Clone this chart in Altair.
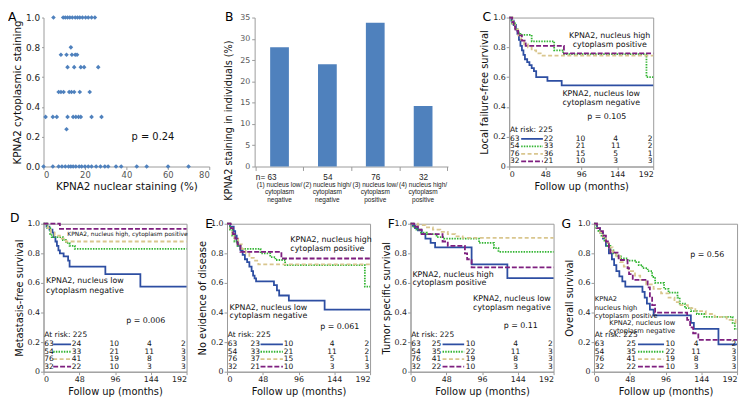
import altair as alt
import pandas as pd

FONT = "DejaVu Sans"
FONT_B = "Liberation Sans"
GROUPS = ["g1", "g2", "g3", "g4"]
COLORS = ["#2D4EA2", "#33B533", "#D9C68E", "#7E1F7F"]
DASHES = [[1, 0], [1.5, 1.2], [4, 2.5], [5, 2]]
AXIS_GREY = "#9a9a9a"

# ---------------- Panel A data (nuclear %, cytoplasmic score) ----------------
A_LEVELS = [1.0, 0.8, 0.75, 0.667, 0.5, 0.333, 0.25, 0.0]
A_NUC_100 = [4.8, 9.5, 10.5, 11.6, 12.7, 13.9, 15.3, 16.4, 17.5, 18.8, 20.3, 21.6, 23.2, 24.8]
A_NUC_080 = [13.2]
A_NUC_075 = [8.4, 11.1, 13.7, 15.3, 16.2]
A_NUC_067 = [11.6, 14.8, 18.0, 19.6, 26.4]
A_NUC_050 = [7.3, 8.4, 9.7, 12.4, 13.5, 14.8, 17.5, 22.3]
A_NUC_033 = [1.0, 4.5, 6.4, 11.6, 14.3, 15.6, 16.9, 18.0, 23.2, 28.0]
A_NUC_025 = [11.1]
A_NUC_000 = [0, 4.5, 7.3, 8.9, 10.5, 12.1, 13.2, 14.3, 15.6, 17.2, 18.4, 20.0, 21.6,
             23.2, 25.4, 27.5, 29.6, 31.2, 35.0, 37.5, 45.0, 49.8, 60.1, 70.0]

# ---------------- Panel B data ----------------
B_CATS = ["c1", "c2", "c3", "c4"]
B_N = [63, 54, 76, 32]
B_PCT = [28.0, 24.0, 33.8, 14.2]
B_LABELS = [["(1) nucleus low/", "cytoplasm", "negative"],
            ["(2) nucleus high/", "cytoplasm", "negative"],
            ["(3) nucleus low/", "cytoplasm", "positive"],
            ["(4) nucleus high/", "cytoplasm", "positive"]]

# ---------------- Kaplan-Meier curves (time in months, survival) ----------------
C_T1 = [0, 3, 6, 9, 11, 13, 15, 17, 19, 21, 24, 27, 30, 33, 36, 51, 70, 192]
C_S1 = [1.0, 0.98, 0.95, 0.92, 0.89, 0.85, 0.81, 0.78, 0.75, 0.72, 0.70, 0.68, 0.66, 0.64, 0.60, 0.575, 0.545, 0.545]
C_T2 = [0, 4, 8, 12, 15, 30, 60, 72, 183, 192]
C_S2 = [1.0, 0.96, 0.92, 0.9, 0.883, 0.84, 0.78, 0.755, 0.6, 0.6]
C_T3 = [0, 5, 8, 12, 16, 20, 25, 30, 36, 42, 192]
C_S3 = [1.0, 0.96, 0.92, 0.88, 0.85, 0.82, 0.8, 0.78, 0.76, 0.745, 0.745]
C_T4 = [0, 4, 6, 8, 12, 17, 22, 73, 192]
C_S4 = [1.0, 0.97, 0.94, 0.91, 0.88, 0.845, 0.81, 0.76, 0.76]

D_T1 = [0, 4, 8, 12, 14, 16, 18, 20, 22, 27, 33, 35, 83, 130, 192]
D_S1 = [1.0, 0.98, 0.96, 0.94, 0.91, 0.88, 0.85, 0.82, 0.8, 0.78, 0.75, 0.71, 0.66, 0.575, 0.575]
D_T2 = [0, 5, 9, 11, 26, 30, 35, 42, 192]
D_S2 = [1.0, 0.97, 0.93, 0.91, 0.89, 0.87, 0.85, 0.83, 0.83]
D_T3 = [0, 6, 10, 15, 22, 30, 192]
D_S3 = [1.0, 0.97, 0.94, 0.92, 0.9, 0.88, 0.88]
D_T4 = [0, 22, 192]
D_S4 = [1.0, 0.965, 0.965]

E_T1 = [0, 4, 9, 11, 13, 15, 18, 21, 24, 27, 30, 33, 35, 37, 39, 63, 67, 70, 83, 131, 192]
E_S1 = [1.0, 0.98, 0.95, 0.92, 0.88, 0.85, 0.82, 0.79, 0.76, 0.74, 0.71, 0.68, 0.65, 0.63, 0.61, 0.585, 0.55, 0.515, 0.48, 0.42, 0.42]
E_T2 = [0, 4, 7, 10, 14, 18, 45, 58, 65, 78, 185, 192]
E_S2 = [1.0, 0.96, 0.92, 0.88, 0.85, 0.83, 0.8, 0.775, 0.755, 0.72, 0.575, 0.575]
E_T3 = [0, 4, 7, 10, 15, 20, 25, 30, 36, 42, 192]
E_S3 = [1.0, 0.97, 0.93, 0.9, 0.86, 0.83, 0.8, 0.77, 0.75, 0.725, 0.725]
E_T4 = [0, 5, 8, 11, 14, 18, 73, 192]
E_S4 = [1.0, 0.97, 0.93, 0.9, 0.86, 0.81, 0.765, 0.765]

F_T1 = [0, 3, 6, 10, 15, 20, 27, 33, 82, 130, 192]
F_S1 = [1.0, 0.985, 0.97, 0.955, 0.93, 0.9, 0.87, 0.84, 0.725, 0.633, 0.633]
F_T2 = [0, 4, 8, 14, 22, 35, 45, 92, 112, 118, 192]
F_S2 = [1.0, 0.98, 0.96, 0.94, 0.93, 0.91, 0.9, 0.87, 0.835, 0.81, 0.81]
F_T3 = [0, 10, 20, 30, 40, 50, 60, 70, 192]
F_S3 = [1.0, 0.99, 0.975, 0.96, 0.945, 0.93, 0.915, 0.905, 0.905]
F_T4 = [0, 5, 10, 15, 43, 50, 73, 76, 82, 192]
F_S4 = [1.0, 0.98, 0.96, 0.93, 0.88, 0.85, 0.8, 0.76, 0.705, 0.705]

G_T1 = [0, 4, 8, 12, 16, 20, 24, 27, 30, 34, 38, 42, 65, 68, 71, 75, 80, 130, 134, 167, 192]
G_S1 = [1.0, 0.97, 0.94, 0.9, 0.85, 0.8, 0.76, 0.72, 0.68, 0.645, 0.61, 0.575, 0.54, 0.5, 0.46, 0.42, 0.38, 0.33, 0.29, 0.185, 0.185]
G_T2 = [0, 3, 6, 10, 14, 18, 22, 26, 30, 36, 45, 55, 60, 65, 72, 78, 82, 94, 100, 112, 115, 122, 130, 138, 148, 186, 189, 192]
G_S2 = [1.0, 0.97, 0.95, 0.92, 0.88, 0.85, 0.82, 0.8, 0.78, 0.765, 0.75, 0.74, 0.72, 0.7, 0.68, 0.64, 0.6, 0.56, 0.535, 0.5, 0.46, 0.43, 0.41, 0.39, 0.37, 0.33, 0.29, 0.29]
G_T3 = [0, 4, 8, 12, 16, 20, 25, 30, 35, 40, 46, 55, 62, 70, 80, 90, 100, 108, 116, 126, 136, 150, 162, 178, 190, 192]
G_S3 = [1.0, 0.97, 0.94, 0.9, 0.87, 0.84, 0.81, 0.78, 0.74, 0.71, 0.68, 0.65, 0.62, 0.59, 0.56, 0.53, 0.5, 0.47, 0.45, 0.43, 0.41, 0.39, 0.37, 0.35, 0.32, 0.32]
G_T4 = [0, 4, 8, 12, 16, 20, 22, 33, 45, 47, 52, 72, 75, 78, 82, 125, 129, 133, 140, 192]
G_S4 = [1.0, 0.97, 0.95, 0.92, 0.88, 0.84, 0.805, 0.755, 0.7, 0.66, 0.62, 0.57, 0.51, 0.45, 0.4, 0.35, 0.3, 0.26, 0.215, 0.215]

# ---------------- Numbers at risk ----------------
RISK_LABELS = [63, 54, 76, 32]
C_RISK = [[22, 33, 36, 21], [10, 21, 15, 10], [4, 11, 5, 3], [2, 2, 1, 3]]
D_RISK = [[24, 33, 41, 22], [10, 21, 19, 10], [4, 11, 8, 3], [2, 3, 3, 3]]
E_RISK = [[23, 33, 37, 21], [10, 21, 15, 10], [4, 11, 5, 3], [2, 2, 1, 3]]
F_RISK = [[25, 35, 41, 22], [10, 22, 19, 10], [4, 11, 8, 3], [2, 3, 3, 3]]
G_RISK = [[25, 35, 41, 22], [10, 22, 19, 10], [4, 11, 8, 3], [2, 3, 3, 3]]
RISK_Y = [0.185, 0.135, 0.085, 0.035]
RISK_HEAD_Y = 0.245
RISK_FS = 7.6


def letter_title(letter, dx, offset):
    return alt.TitleParams(text=letter, anchor="start", frame="group", dx=dx,
                           offset=offset, fontSize=12.5, fontWeight="normal", font=FONT)


def base_x():
    return alt.X("t:Q", scale=alt.Scale(domain=[0, 192], nice=False, zero=False),
                 axis=alt.Axis(values=[0, 48, 96, 144, 192], title="Follow up (months)",
                               titleFontSize=10, labelFontSize=8, tickSize=3,
                               labelPadding=1, titlePadding=3))


def base_y(title):
    return alt.Y("s:Q", scale=alt.Scale(domain=[0, 1], nice=False),
                 axis=alt.Axis(values=[0, 0.2, 0.4, 0.6, 0.8, 1.0],
                               labelExpr="datum.value == 0 ? '0' : format(datum.value, '.1f')",
                               title=title, titleFontSize=10, labelFontSize=8, tickSize=3,
                               labelPadding=1, titlePadding=3))


def km_panel(letter, ldx, loff, ytitle, curves, risk, cols, seg, annots, width, height):
    xs = base_x()
    ys = base_y(ytitle)
    col = alt.Color("g:N", scale=alt.Scale(domain=GROUPS, range=COLORS), legend=None)
    dash = alt.StrokeDash("g:N", scale=alt.Scale(domain=GROUPS, range=DASHES), legend=None)
    rows = []
    for g, (ts, ss) in zip(GROUPS, curves):
        for t, s in zip(ts, ss):
            rows.append({"g": g, "t": t, "s": s})
    lines = alt.Chart(pd.DataFrame(rows)).mark_line(
        interpolate="step-after", strokeWidth=1.8).encode(x=xs, y=ys, color=col, strokeDash=dash)

    segdf = pd.DataFrame({"g": GROUPS, "t": [seg[0]] * 4, "t2": [seg[1]] * 4, "s": RISK_Y})
    segs = alt.Chart(segdf).mark_rule(strokeWidth=1.8).encode(
        x=xs, x2="t2:Q", y=ys, color=col, strokeDash=dash)

    items = [(1, RISK_HEAD_Y, "At risk: 225", "left", RISK_FS)]
    for lab, y in zip(RISK_LABELS, RISK_Y):
        items.append((1, y, str(lab), "left", RISK_FS))
    for (cx, al), vals in zip(cols, risk):
        for v, y in zip(vals, RISK_Y):
            items.append((cx, y, str(v), al, RISK_FS))
    items += annots
    layers = [lines, segs]
    keys = sorted(set((it[3], it[4]) for it in items))
    for al, sz in keys:
        sub = [it for it in items if it[3] == al and it[4] == sz]
        df = pd.DataFrame({"t": [i[0] for i in sub], "s": [i[1] for i in sub],
                           "label": [i[2] for i in sub]})
        layers.append(alt.Chart(df).mark_text(align=al, baseline="middle", fontSize=sz,
                                              font=FONT, color="#111").encode(
            x=xs, y=ys, text="label:N"))
    return alt.layer(*layers).properties(
        width=width, height=height,
        view=alt.ViewBackground(stroke=AXIS_GREY, strokeWidth=1),
        title=letter_title(letter, ldx, loff))


# ---------------- Panel A ----------------
a_nuc, a_cyt = [], []
for lvl, vals in zip(A_LEVELS, [A_NUC_100, A_NUC_080, A_NUC_075, A_NUC_067, A_NUC_050,
                                A_NUC_033, A_NUC_025, A_NUC_000]):
    a_nuc += vals
    a_cyt += [lvl] * len(vals)
dfa = pd.DataFrame({"nuc": a_nuc, "cyt": a_cyt})
ax = alt.X("nuc:Q", scale=alt.Scale(domain=[0, 80], nice=False),
           axis=alt.Axis(values=[0, 20, 40, 60, 80], title="KPNA2 nuclear staining (%)",
                         titleFontSize=10.5, labelFontSize=8.5, labelColor="#555",
                         tickSize=3, labelPadding=1, titlePadding=3))
ay = alt.Y("cyt:Q", scale=alt.Scale(domain=[0, 1], nice=False),
           axis=alt.Axis(values=[0, 0.2, 0.4, 0.6, 0.8, 1.0], format=".1f",
                         title="KPNA2 cytoplasmic staining", titleFontSize=10.5,
                         labelFontSize=9, tickSize=2, labelPadding=2, titlePadding=3))
pts = alt.Chart(dfa).mark_point(shape="diamond", filled=True, size=22, opacity=1,
                                color="#4F81BD").encode(x=ax, y=ay)
ptxt = alt.Chart(pd.DataFrame({"nuc": [42.5], "cyt": [0.2], "label": ["p = 0.24"]})).mark_text(
    align="left", baseline="middle", fontSize=10, font=FONT, color="#111").encode(
    x=ax, y=ay, text="label:N")
panelA = alt.layer(pts, ptxt).properties(width=168, height=151,
                                         title=letter_title("A", -36, -10))

# ---------------- Panel B ----------------
dfb = pd.DataFrame({"cat": B_CATS, "pct": B_PCT})
n_expr = " : ".join(f"datum.value == '{c}' ? '{('n= ' if i == 0 else '') + str(n)}'"
                    for i, (c, n) in enumerate(zip(B_CATS, B_N))) + " : ''"
lab_expr = " : ".join(
    f"datum.value == '{c}' ? [" + ", ".join(f"'{s}'" for s in lab) + "]"
    for c, lab in zip(B_CATS, B_LABELS)) + " : ''"
bscale = alt.Scale(domain=B_CATS, paddingInner=0, paddingOuter=0.02)
bx1 = alt.X("cat:N", scale=bscale, sort=None,
            axis=alt.Axis(title=None, orient="bottom", labelExpr=n_expr, labelAngle=0,
                          tickBand="extent", tickSize=4, labelFontSize=8.3, labelPadding=2,
                          labelFont=FONT_B, labelOverlap=False, labelColor="#222",
                          labelOffset={"condition": {"test": "datum.value == 'c1'", "value": -14},
                                       "value": 0}))
bx2 = alt.X("cat:N", scale=bscale, sort=None,
            axis=alt.Axis(title=None, orient="bottom", offset=15, domain=False, ticks=False,
                          labelExpr=lab_expr, labelAngle=0, labelFontSize=6.6,
                          labelFont=FONT_B, labelLineHeight=7.7, labelPadding=0,
                          labelOverlap=False, labelBaseline="top", labelColor="#222"))
by = alt.Y("pct:Q", scale=alt.Scale(domain=[0, 35], nice=False),
           axis=alt.Axis(values=[0, 5, 10, 15, 20, 25, 30, 35],
                         title="KPNA2 staining in individuals (%)", titleY=104,
                         titleFontSize=9.8, labelFontSize=8, labelColor="#555", tickSize=3,
                         labelPadding=2, titlePadding=6))
bars = alt.Chart(dfb).mark_bar(size=19, color="#4F81BD").encode(x=bx1, y=by)
bars2 = alt.Chart(dfb).mark_bar(size=19, opacity=0).encode(x=bx2, y=by)
panelB = alt.layer(bars, bars2).resolve_axis(x="independent").properties(
    width=196, height=151, title=letter_title("B", -30, -10))

# ---------------- KM panels ----------------
panelC = km_panel(
    "C", -27, -10, "Local failure-free survival",
    [(C_T1, C_S1), (C_T2, C_S2), (C_T3, C_S3), (C_T4, C_S4)], C_RISK,
    [(46, "left"), (95, "center"), (142, "center"), (191, "right")], (16, 45),
    [(134, 0.876, "KPNA2, nucleus high", "center", 8),
     (134, 0.817, "cytoplasm positive", "center", 8),
     (71, 0.486, "KPNA2, nucleus low", "left", 8),
     (71, 0.424, "cytoplasm negative", "left", 8),
     (104, 0.331, "p = 0.105", "left", 8)],
    146, 151)

panelD = km_panel(
    "D", -34, -5, "Metastasis-free survival",
    [(D_T1, D_S1), (D_T2, D_S2), (D_T3, D_S3), (D_T4, D_S4)], D_RISK,
    [(38, "left"), (95, "center"), (142, "center"), (191, "right")], (13, 37),
    [(32, 0.933, "KPNA2, nucleus high, cytoplasm positive", "left", 6),
     (3.5, 0.611, "KPNA2, nucleus low", "left", 8),
     (3.5, 0.544, "cytoplasm negative", "left", 8),
     (111, 0.344, "p = 0.006", "left", 8)],
    145, 150)

panelE = km_panel(
    "E", -22, -11, "No evidence of disease",
    [(E_T1, E_S1), (E_T2, E_S2), (E_T3, E_S3), (E_T4, E_S4)], E_RISK,
    [(38, "center"), (76, "left"), (141, "center"), (191, "right")], (45, 75),
    [(85, 0.89, "KPNA2, nucleus high", "left", 8),
     (85, 0.827, "cytoplasm positive", "left", 8),
     (3.5, 0.433, "KPNA2, nucleus low", "left", 8),
     (3.5, 0.373, "cytoplasm negative", "left", 8),
     (125, 0.3, "p = 0.061", "left", 8)],
    145, 150)

panelF = km_panel(
    "F", -23, -11, "Tumor specific survival",
    [(F_T1, F_S1), (F_T2, F_S2), (F_T3, F_S3), (F_T4, F_S4)], F_RISK,
    [(35, "center"), (74, "left"), (141, "center"), (191, "right")], (43, 72),
    [(2.5, 0.656, "KPNA2, nucleus high", "left", 8),
     (2.5, 0.6, "cytoplasm positive", "left", 8),
     (84, 0.493, "KPNA2, nucleus low", "left", 8),
     (84, 0.433, "cytoplasm negative", "left", 8),
     (125, 0.307, "p = 0.11", "left", 8)],
    145, 150)

panelG = km_panel(
    "G", -33, -11, "Overall survival",
    [(G_T1, G_S1), (G_T2, G_S2), (G_T3, G_S3), (G_T4, G_S4)], G_RISK,
    [(50, "center"), (96, "left"), (137, "center"), (191, "right")], (59, 94),
    [(129, 0.789, "p = 0.56", "left", 8),
     (1, 0.489, "KPNA2", "left", 6.8),
     (1, 0.433, "nucleus high", "left", 6.8),
     (1, 0.378, "cytoplasm positive", "left", 6.8),
     (109, 0.326, "KPNA2, nucleus low", "right", 6.8),
     (109, 0.274, "cytoplasm negative", "right", 6.8)],
    145, 150)


def spacer(w, h):
    return alt.Chart(pd.DataFrame({"v": [0]})).mark_point(size=1, opacity=0).encode(
        x=alt.value(w / 2), y=alt.value(h / 2)).properties(width=w, height=h)


top = alt.hconcat(panelA, spacer(46, 151), panelB, spacer(62, 151), panelC,
                  spacing=0, bounds="flush")
bottom = alt.hconcat(panelD, panelE, panelF, panelG, spacing=41, bounds="flush")
chart = alt.vconcat(top, bottom, spacing=9).properties(
    padding=0
).configure_view(stroke=None).configure_axis(
    grid=False, labelFont=FONT, titleFont=FONT, domainColor=AXIS_GREY, tickColor=AXIS_GREY,
    labelColor="#222", titleColor="#111", titleFontWeight="normal"
).configure_text(font=FONT)

chart.save("out.html", embed_options={"renderer": "svg", "actions": False})
